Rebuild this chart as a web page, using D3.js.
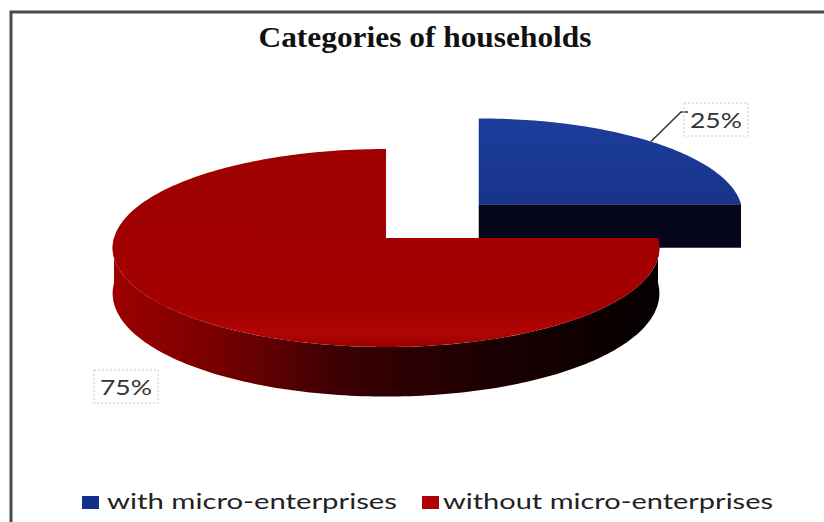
<!DOCTYPE html>
<html>
<head>
<meta charset="utf-8">
<script src="https://cdn.jsdelivr.net/npm/d3@7"></script>
<style>
  html, body { margin: 0; padding: 0; background: #fff; }
  svg { display: block; }
</style>
</head>
<body>
<svg id="chart" width="824" height="522"></svg>
<script>
// ---- data ----
const categories = ["with micro-enterprises", "without micro-enterprises"];
const shares = [25, 75];
const labelTexts = ["25%", "75%"];
const explode = [0.5, 0];

// ---- styling ----
const titleText = "Categories of households";

const svg = d3.select("#chart");
const defs = svg.append("defs");

// outer frame (runs past the right and bottom edges)
svg.append("rect")
  .attr("x", 11).attr("y", 12)
  .attr("width", 840).attr("height", 540)
  .attr("fill", "none").attr("stroke", "#4a4a4a").attr("stroke-width", 3);

// title
svg.append("text")
  .attr("x", 425).attr("y", 47)
  .attr("text-anchor", "middle")
  .attr("font-family", "'Liberation Serif', 'Times New Roman', serif")
  .attr("font-weight", "bold")
  .attr("font-size", 29)
  .attr("textLength", 333).attr("lengthAdjust", "spacingAndGlyphs")
  .attr("fill", "#111")
  .text(titleText);

// ---- 3D pie projection ----
const cx = 386, cy = 238, rx = 272, ry = 99, persp = 0.101, depth = 45;
function proj(X, Z, h) {
  const p = 1 + persp * Z;
  return [cx + X * rx * p, cy + (Z * ry + h * depth) * p];
}

const pie = d3.pie().sort(null).value(d => d).startAngle(0).endAngle(2 * Math.PI);
const arcs = pie(shares).map((d, i) => {
  const mid = (d.startAngle + d.endAngle) / 2;
  const ox = explode[i] * Math.sin(mid), oz = -explode[i] * Math.cos(mid);
  return {
    ...d, i, mid, ox, oz,
    origin: proj(ox, oz, 0),          // where the slice's apex lands
    scale: 1 + persp * oz             // pulled-out slices shrink with distance
  };
});

// point on a slice in its own local disk coordinates
function local(s, X, Z, h) {
  const q = proj(X, Z, h);
  return [s.origin[0] + (q[0] - cx) * s.scale, s.origin[1] + (q[1] - cy) * s.scale];
}
function rim(s, a, h) { return local(s, Math.sin(a), -Math.cos(a), h); }
function apex(s, h) { return local(s, 0, 0, h); }
function arcPts(s, a0, a1, h) {
  const n = Math.max(8, Math.ceil(Math.abs(a1 - a0) / 0.02));
  return d3.range(n + 1).map(j => rim(s, a0 + (a1 - a0) * j / n, h));
}
const line = d3.line();

// gradients
const sideGrad = defs.append("linearGradient").attr("id", "sideRed")
  .attr("gradientUnits", "userSpaceOnUse")
  .attr("x1", 112).attr("y1", 0).attr("x2", 660).attr("y2", 0);
[[0, "#9e0000"], [0.18, "#7a0000"], [0.42, "#3a0003"], [0.7, "#1a0002"], [1, "#050000"]]
  .forEach(([o, c]) => sideGrad.append("stop").attr("offset", o).attr("stop-color", c));

const topRed = defs.append("linearGradient").attr("id", "topRed")
  .attr("x1", 0).attr("y1", 0).attr("x2", 0).attr("y2", 1);
[[0, "#9e0000"], [0.8, "#a40000"], [0.93, "#b00505"], [1, "#9a0000"]]
  .forEach(([o, c]) => topRed.append("stop").attr("offset", o).attr("stop-color", c));

const topBlue = defs.append("linearGradient").attr("id", "topBlue")
  .attr("x1", 0).attr("y1", 0).attr("x2", 0).attr("y2", 1);
[[0, "#1d3d9c"], [1, "#17348a"]]
  .forEach(([o, c]) => topBlue.append("stop").attr("offset", o).attr("stop-color", c));

const topFill = ["url(#topBlue)", "url(#topRed)"];
const sideFill = ["#06061c", "url(#sideRed)"];
const faceFill = ["#05051a", "#3a0000"];

const pieG = svg.append("g");
const order = arcs.slice().sort((a, b) => a.oz - b.oz);

order.forEach(s => {
  const g = pieG.append("g");
  const a0 = s.startAngle, a1 = s.endAngle;

  // outer wall: visible where the rim faces the viewer
  for (let n = -1; n <= 2; n++) {
    const w0 = Math.PI / 2 + 2 * Math.PI * n, w1 = 3 * Math.PI / 2 + 2 * Math.PI * n;
    const b0 = Math.max(a0, w0), b1 = Math.min(a1, w1);
    if (b1 - b0 > 1e-6) {
      const pts = arcPts(s, b0, b1, 0).concat(arcPts(s, b1, b0, 1));
      g.append("path").attr("d", line(pts) + "Z").attr("fill", sideFill[s.i]);
    }
  }

  // radial cut faces
  if (Math.sin(a1) > 1e-3) {
    const pts = [apex(s, 0), rim(s, a1, 0), rim(s, a1, 1), apex(s, 1)];
    g.append("path").attr("d", line(pts) + "Z").attr("fill", faceFill[s.i]);
  }
  if (Math.sin(a0) < -1e-3) {
    const pts = [apex(s, 0), rim(s, a0, 0), rim(s, a0, 1), apex(s, 1)];
    g.append("path").attr("d", line(pts) + "Z").attr("fill", faceFill[s.i]);
  }

  // top face
  const topPts = [apex(s, 0)].concat(arcPts(s, a0, a1, 0));
  g.append("path").attr("d", line(topPts) + "Z").attr("fill", topFill[s.i]);
});

// ---- data labels ----
const labelPos = [
  { x: 716, y: 128, lead: true },
  { x: 126, y: 395, lead: false }
];
const labelG = svg.append("g");
arcs.forEach(s => {
  const lp = labelPos[s.i];
  if (lp.lead) {
    const start = rim(s, s.mid, 0);
    const pts = [start, [lp.x - 35, lp.y - 16], [lp.x - 28, lp.y - 16]];
    labelG.append("path").attr("d", line(pts))
      .attr("fill", "none").attr("stroke", "#333").attr("stroke-width", 1.5);
  }
  const t = labelG.append("text")
    .attr("x", lp.x).attr("y", lp.y)
    .attr("text-anchor", "middle")
    .attr("font-family", "Lato, 'Open Sans', sans-serif")
    .attr("font-size", 21)
    .attr("textLength", 52).attr("lengthAdjust", "spacingAndGlyphs")
    .attr("fill", "#333")
    .text(labelTexts[s.i]);
  const bb = t.node().getBBox();
  labelG.insert("rect", "text")
    .attr("x", bb.x - 6).attr("y", bb.y - 4)
    .attr("width", bb.width + 12).attr("height", bb.height + 8)
    .attr("fill", "none").attr("stroke", "#c8c8c8")
    .attr("stroke-width", 1).attr("stroke-dasharray", "2,2");
});

// ---- legend ----
const legendItems = [
  { sx: 82, tx: 107, len: 290 },
  { sx: 422, tx: 443, len: 330 }
];
const legendFill = ["#12308a", "#b0000a"];
const legG = svg.append("g");
categories.forEach((c, i) => {
  const it = legendItems[i];
  legG.append("rect")
    .attr("x", it.sx).attr("y", 496).attr("width", 17).attr("height", 13)
    .attr("fill", legendFill[i]);
  legG.append("text")
    .attr("x", it.tx).attr("y", 509)
    .attr("font-family", "Lato, 'Open Sans', sans-serif")
    .attr("font-size", 21)
    .attr("textLength", it.len).attr("lengthAdjust", "spacingAndGlyphs")
    .attr("fill", "#222")
    .text(c);
});
</script>
</body>
</html>
